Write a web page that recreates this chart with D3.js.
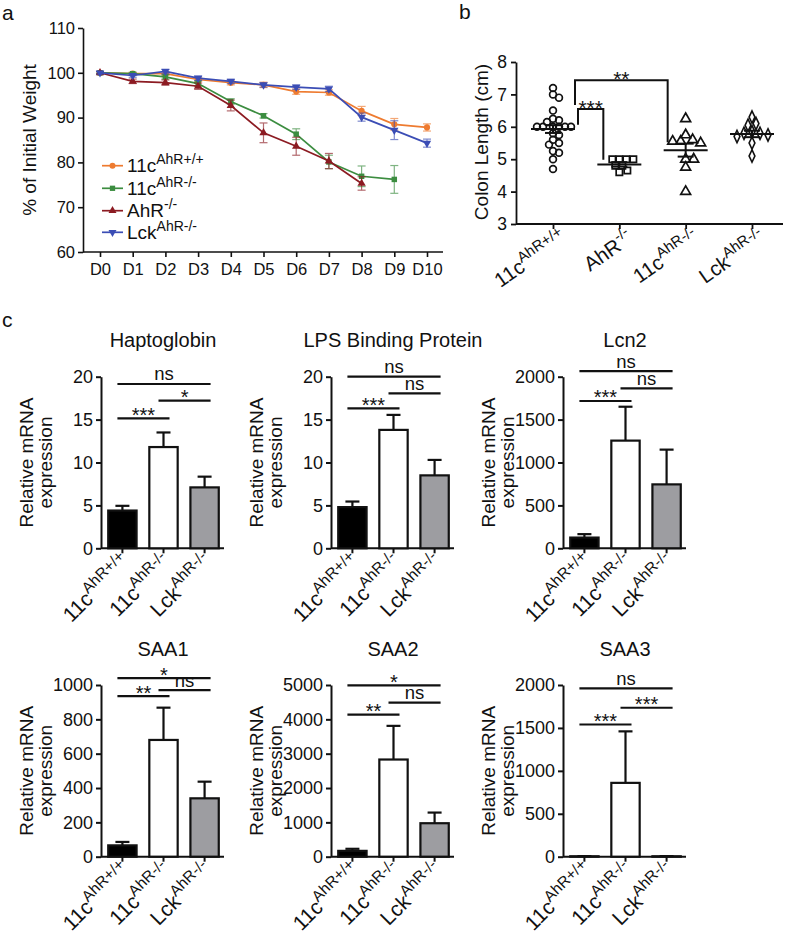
<!DOCTYPE html>
<html><head><meta charset="utf-8">
<script src="https://cdn.jsdelivr.net/npm/d3@7"></script>
<style>
body{margin:0;background:#fff}
svg{display:block;font-family:"Liberation Sans",Arial,Helvetica,sans-serif}
</style>
</head><body>
<svg id="fig" width="787" height="935"></svg>
<script>
// ---------------- DATA ----------------
// Panel a: weight curves
const days = ["D0","D1","D2","D3","D4","D5","D6","D7","D8","D9","D10"];
const weightTicks = [60,70,80,90,100,110];
const wtMean  = [100,99.8,99.8,98.5,97.8,97.3,95.8,95.6,91.5,88.5,87.8];
const wtErr   = [0.2,0.3,0.4,0.5,0.5,0.6,0.6,0.6,1.0,1.3,0.8];
const ko11cMean = [100,99.8,99.1,97.6,93.6,90.4,86.3,80.1,76.9,76.2];
const ko11cErr  = [0.2,0.3,0.5,0.6,0.6,0.5,1.2,1.5,2.3,3.1];
const ahrMean = [100,98.1,97.8,97.0,92.7,86.6,83.6,80.3,75.3];
const ahrErr  = [0.3,0.5,0.6,0.7,1.2,2.2,2.0,1.7,1.5];
const lckMean = [100,99.4,100.3,98.8,98.1,97.3,96.8,96.4,90.1,87.2,84.3];
const lckErr  = [0.3,0.4,0.5,0.5,0.5,0.5,0.5,0.6,0.9,2.1,0.9];
const legBase = ["11c","11c","AhR","Lck"];
const legSup  = ["AhR+/+","AhR-/-","-/-","AhR-/-"];

// Panel b: colon length
const colonCatBase = ["11c","AhR","11c","Lck"];
const colonCatSup  = ["AhR+/+","-/-","AhR-/-","AhR-/-"];
const colonTicks = [3,4,5,6,7,8];
const colonWT   = [7.0,6.9,7.2,6.5,6.25,6.2,6.15,6.0,6.0,6.0,6.0,6.0,6.0,5.8,5.75,5.6,5.5,5.45,5.25,5.2,5.0,4.7];
const colonAhR  = [5.0,5.0,5.0,5.0,4.8,4.8,4.65,4.6];
const colon11c  = [6.25,5.75,5.6,5.55,5.55,5.5,5.0,5.0,4.75,4.0];
const colonLck  = [6.3,6.1,6.05,5.85,5.8,5.8,5.75,5.7,5.5,5.1];
const colonMean = [5.93,4.84,5.28,5.78];
const colonSem  = [0.12,0.07,0.2,0.1];
const colonSig  = [[0,1,6.06,6.55,4.98,"***"],[0,2,6.67,7.44,5.52,"**"]];

// Panel c: qPCR
const barBase = ["11c","11c","Lck"];
const barSup  = ["AhR+/+","AhR-/-","AhR-/-"];
const geneTitles = ["Haptoglobin","LPS Binding Protein","Lcn2","SAA1","SAA2","SAA3"];
const haptoMean = [4.4,11.8,7.1],   haptoErr = [0.55,1.7,1.25];
const lbpMean   = [4.8,13.8,8.5],   lbpErr   = [0.65,1.75,1.8];
const lcn2Mean  = [125,1255,745],   lcn2Err  = [40,395,405];
const saa1Mean  = [66,680,340],     saa1Err  = [20,188,97];
const saa2Mean  = [170,2830,975],   saa2Err  = [60,980,310];
const saa3Mean  = [5,860,5],        saa3Err  = [2,600,2];
const haptoTicks = [0,5,10,15,20];
const lbpTicks   = [0,5,10,15,20];
const lcn2Ticks  = [0,500,1000,1500,2000];
const saa1Ticks  = [0,200,400,600,800,1000];
const saa2Ticks  = [0,1000,2000,3000,4000,5000];
const saa3Ticks  = [0,500,1000,1500,2000];
const haptoSig = [[0,2,19.15,"ns"],[1,2,17.2,"*"],[0,1,15.15,"***"]];
const lbpSig   = [[0,2,20.0,"ns"],[1,2,18.06,"ns"],[0,1,16.3,"***"]];
const lcn2Sig  = [[0,2,2066,"ns"],[1,2,1865,"ns"],[0,1,1717,"***"]];
const saa1Sig  = [[0,2,1040,"*"],[1,2,970,"ns"],[0,1,935,"**"]];
const saa2Sig  = [[0,2,4990,"*"],[1,2,4485,"ns"],[0,1,4140,"**"]];
const saa3Sig  = [[0,2,1960,"ns"],[1,2,1735,"***"],[0,1,1540,"***"]];

// ---------------- DRAW ----------------
const svg = d3.select("#fig");
const INK = "#111";
const fmt = d3.format("d");

function styleAxis(g, fs, sw){
  g.attr("font-family",null).attr("font-size",null);
  g.selectAll("path,line").attr("stroke",INK).attr("stroke-width",sw);
  g.selectAll("text").attr("font-size",fs).attr("fill",INK);
}
function supText(sel, base, sup, fs, sfs){
  sel.attr("font-size",fs).attr("fill",INK);
  sel.append("tspan").text(base);
  sel.append("tspan").attr("font-size",sfs).attr("dy",-fs*0.42).text(sup);
}

// panel letters
[["a",2,20],["b",459,19],["c",2,327]].forEach(([t,x,y])=>{
  svg.append("text").attr("x",x).attr("y",y).attr("font-size",21).attr("fill",INK).text(t);
});

// ===== Panel a =====
const xA = d3.scalePoint().domain(days).range([100,427]);
const yA = d3.scaleLinear().domain([60,110]).range([252,28]);
const gA = svg.append("g");
const axAy = gA.append("g").attr("transform","translate(83,0)")
  .call(d3.axisLeft(yA).tickValues(weightTicks).tickSize(5).tickSizeOuter(0).tickFormat(fmt));
styleAxis(axAy,16.5,1.6);
const axAx = gA.append("g").attr("transform","translate(0,252)")
  .call(d3.axisBottom(xA).tickSize(5).tickSizeOuter(0));
axAx.select(".domain").remove();
styleAxis(axAx,16.5,1.6);
axAx.selectAll("text").attr("y",11);
gA.append("line").attr("x1",83).attr("x2",443).attr("y1",252).attr("y2",252).attr("stroke",INK).attr("stroke-width",1.6);
gA.append("text").attr("transform","translate(36,140) rotate(-90)").attr("text-anchor","middle")
  .attr("font-size",19).attr("fill",INK).text("% of Initial Weight");

const seriesA = [
  {m:wtMean, e:wtErr, c:"#EE7B30", sym:d3.symbolCircle, rot:0},
  {m:ko11cMean, e:ko11cErr, c:"#3C8D40", sym:d3.symbolSquare, rot:0},
  {m:ahrMean, e:ahrErr, c:"#8C1B22", sym:d3.symbolTriangle, rot:0},
  {m:lckMean, e:lckErr, c:"#3B4DB5", sym:d3.symbolTriangle, rot:180}
];
const lineA = d3.line().x((d,i)=>xA(days[i])).y(d=>yA(d));
seriesA.forEach(s=>{
  const g = gA.append("g");
  s.m.forEach((v,i)=>{
    const x = xA(days[i]);
    const eg = g.append("g").attr("stroke",s.c).attr("stroke-width",1.2).attr("opacity",0.65);
    eg.append("line").attr("x1",x).attr("x2",x).attr("y1",yA(v-s.e[i])).attr("y2",yA(v+s.e[i]));
    eg.append("line").attr("x1",x-4).attr("x2",x+4).attr("y1",yA(v-s.e[i])).attr("y2",yA(v-s.e[i]));
    eg.append("line").attr("x1",x-4).attr("x2",x+4).attr("y1",yA(v+s.e[i])).attr("y2",yA(v+s.e[i]));
  });
  g.append("path").datum(s.m).attr("d",lineA).attr("fill","none").attr("stroke",s.c).attr("stroke-width",1.7);
  g.selectAll("path.mk").data(s.m).join("path").attr("class","mk")
    .attr("d",d3.symbol().type(s.sym).size(30))
    .attr("transform",(d,i)=>`translate(${xA(days[i])},${yA(d)}) rotate(${s.rot})`)
    .attr("fill",s.c);
});
// legend
const legY = [165.7,188.3,210.7,232.3];
seriesA.forEach((s,i)=>{
  const y = legY[i];
  gA.append("line").attr("x1",102).attr("x2",123).attr("y1",y).attr("y2",y).attr("stroke",s.c).attr("stroke-width",1.7);
  gA.append("path").attr("d",d3.symbol().type(s.sym).size(28)).attr("transform",`translate(112.5,${y}) rotate(${s.rot})`).attr("fill",s.c);
  supText(gA.append("text").attr("x",127).attr("y",y+6.5), legBase[i], legSup[i], 19, 14);
});

// ===== Panel b =====
const xB = d3.scalePoint().domain(d3.range(4)).range([553,752]);
const yB = d3.scaleLinear().domain([3,8]).range([224,62]);
const gB = svg.append("g");
const axBy = gB.append("g").attr("transform","translate(516,0)")
  .call(d3.axisLeft(yB).tickValues(colonTicks).tickSize(5).tickSizeOuter(0).tickFormat(fmt));
styleAxis(axBy,17.5,1.8);
axBy.selectAll("text").attr("x",-9);
const axBx = gB.append("g").attr("transform","translate(0,224)")
  .call(d3.axisBottom(xB).tickSize(5).tickSizeOuter(0).tickFormat(""));
axBx.select(".domain").remove();
styleAxis(axBx,17,1.8);
gB.append("line").attr("x1",516).attr("x2",783).attr("y1",224).attr("y2",224).attr("stroke",INK).attr("stroke-width",1.8);
gB.append("text").attr("transform","translate(487.5,142) rotate(-90)").attr("text-anchor","middle")
  .attr("font-size",19).attr("fill",INK).text("Colon Length (cm)");
colonCatBase.forEach((b,i)=>{
  const t = gB.append("text").attr("text-anchor","end")
    .attr("transform",`translate(${xB(i)+15},${241}) rotate(-35)`);
  supText(t,b,colonCatSup[i],20.5,15);
});

function swarm(vals, ys, minD, step){
  const order = vals.map((v,i)=>i).sort((a,b)=>vals[b]-vals[a]);
  const placed=[], off=new Array(vals.length).fill(0);
  order.forEach(i=>{
    const y = ys(vals[i]);
    for(let k=0;k<80;k++){
      const dx = (k%2===1?1:-1)*Math.ceil(k/2)*step;
      if(placed.every(p=>Math.hypot(p.x-dx,p.y-y)>=minD)){placed.push({x:dx,y});off[i]=dx;break;}
    }
  });
  return off;
}
const colonGroups = [colonWT,colonAhR,colon11c,colonLck];
const bSyms = [d3.symbolCircle,d3.symbolSquare,d3.symbolTriangle,d3.symbolDiamond];
const bSizes = [36,40,42,36];
const bMinD = [6.0,6.8,8.0,7.5];
colonGroups.forEach((vals,gi)=>{
  const off = swarm(vals,yB,bMinD[gi],1.0);
  gB.append("g").selectAll("path").data(vals).join("path")
    .attr("d",d3.symbol().type(bSyms[gi]).size(bSizes[gi]))
    .attr("transform",(d,i)=>`translate(${xB(gi)+off[i]},${yB(d)})`+(gi===3?" scale(0.9,1.1)":""))
    .attr("fill","none").attr("stroke",INK).attr("stroke-width",1.7);
  const cx = xB(gi), m = colonMean[gi], s = colonSem[gi];
  const lg = gB.append("g").attr("stroke",INK).attr("stroke-width",2);
  lg.append("line").attr("x1",cx-22).attr("x2",cx+22).attr("y1",yB(m)).attr("y2",yB(m));
  lg.append("line").attr("x1",cx).attr("x2",cx).attr("y1",yB(m-s)).attr("y2",yB(m+s));
  lg.append("line").attr("x1",cx-8).attr("x2",cx+8).attr("y1",yB(m-s)).attr("y2",yB(m-s));
  lg.append("line").attr("x1",cx-8).attr("x2",cx+8).attr("y1",yB(m+s)).attr("y2",yB(m+s));
});
const bLeftOff = [25,22], bRightOff = [-16,-18];
colonSig.forEach(([a,b,sv,tv,ev,lab],k)=>{
  const x1 = xB(a)+bLeftOff[k], x2 = xB(b)+bRightOff[k];
  gB.append("path").attr("d",`M${x1},${yB(sv)}V${yB(tv)}H${x2}V${yB(ev)}`)
    .attr("fill","none").attr("stroke",INK).attr("stroke-width",2);
  gB.append("text").attr("x",(x1+x2)/2).attr("y",yB(tv)+6).attr("text-anchor","middle")
    .attr("font-size",21).attr("fill",INK).text(lab);
});

// ===== Panel c =====
const chartMeans = [haptoMean,lbpMean,lcn2Mean,saa1Mean,saa2Mean,saa3Mean];
const chartErrs  = [haptoErr,lbpErr,lcn2Err,saa1Err,saa2Err,saa3Err];
const chartTicks = [haptoTicks,lbpTicks,lcn2Ticks,saa1Ticks,saa2Ticks,saa3Ticks];
const chartSigs  = [haptoSig,lbpSig,lcn2Sig,saa1Sig,saa2Sig,saa3Sig];
const colX = [101,331,563];
const rowY = [[376.7,548.3],[685,856.7]];
const barFill = ["#000","#fff","#9d9da1"];

geneTitles.forEach((title,ci)=>{
  const ax = colX[ci%3], [top,bot] = rowY[Math.floor(ci/3)];
  const ticks = chartTicks[ci];
  const y = d3.scaleLinear().domain([0,d3.max(ticks)]).range([bot,top]);
  const x = d3.scaleBand().domain(d3.range(3)).range([ax,ax+125]).paddingInner(0.31).paddingOuter(0.176);
  const cxf = i=>x(i)+x.bandwidth()/2;
  const g = svg.append("g");
  const mid = (top+bot)/2;
  g.append("text").attr("transform",`translate(${ax-68},${mid}) rotate(-90)`).attr("text-anchor","middle")
    .attr("font-size",19).attr("fill",INK).text("Relative mRNA");
  g.append("text").attr("transform",`translate(${ax-49},${mid}) rotate(-90)`).attr("text-anchor","middle")
    .attr("font-size",19).attr("fill",INK).text("expression");
  const ya = g.append("g").attr("transform",`translate(${ax},0)`)
    .call(d3.axisLeft(y).tickValues(ticks).tickSize(5).tickSizeOuter(0).tickFormat(fmt));
  styleAxis(ya,18,2);
  ya.selectAll("text").attr("x",-8);
  const xa = g.append("g").attr("transform",`translate(0,${bot})`)
    .call(d3.axisBottom(x).tickSize(5).tickSizeOuter(0).tickFormat(""));
  xa.select(".domain").remove();
  styleAxis(xa,17,2);
  g.append("line").attr("x1",ax).attr("x2",ax+123).attr("y1",bot).attr("y2",bot).attr("stroke",INK).attr("stroke-width",2);
  g.append("text").attr("x",ax+62).attr("y",top-29.5).attr("text-anchor","middle")
    .attr("font-size",20).attr("fill",INK).text(title);
  const means = chartMeans[ci], errs = chartErrs[ci];
  means.forEach((m,i)=>{
    const cx = cxf(i);
    g.append("line").attr("x1",cx).attr("x2",cx).attr("y1",y(m)).attr("y2",y(m+errs[i])).attr("stroke",INK).attr("stroke-width",2.2);
    g.append("line").attr("x1",cx-7).attr("x2",cx+7).attr("y1",y(m+errs[i])).attr("y2",y(m+errs[i])).attr("stroke",INK).attr("stroke-width",2.2);
    g.append("rect").attr("x",x(i)).attr("width",x.bandwidth()).attr("y",y(m)).attr("height",bot-y(m))
      .attr("fill",barFill[i]).attr("stroke",INK).attr("stroke-width",2.2);
  });
  chartSigs[ci].forEach(([a,b,lv,lab])=>{
    const x1 = cxf(a)-5, x2 = cxf(b)+6, yy = y(lv);
    g.append("line").attr("x1",x1).attr("x2",x2).attr("y1",yy).attr("y2",yy).attr("stroke",INK).attr("stroke-width",2.2);
    g.append("text").attr("x",(x1+x2)/2).attr("y",lab==="ns"?yy-3.5:yy+3.5).attr("text-anchor","middle")
      .attr("font-size",lab==="ns"?18.5:20).attr("fill",INK).text(lab);
  });
  barBase.forEach((b,i)=>{
    const t = g.append("text").attr("text-anchor","end")
      .attr("transform",`translate(${cxf(i)+9},${bot+15}) rotate(-45)`);
    supText(t,b,barSup[i],21,15.5);
  });
});
</script>
</body></html>
